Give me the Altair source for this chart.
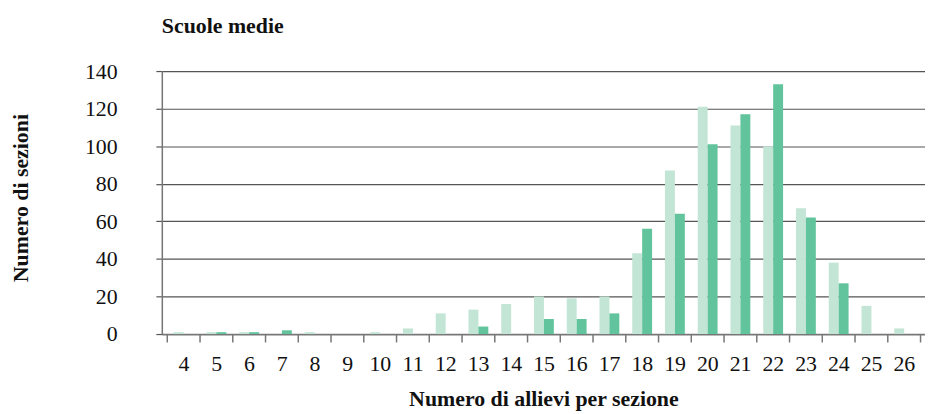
import altair as alt
import pandas as pd

categories = list(range(4, 27))
serie_chiara = [1, 1, 1, 0, 1, 0, 1, 3, 11, 13, 16, 20, 19, 20, 43, 87, 121, 111, 100, 67, 38, 15, 3]
serie_scura = [0, 1, 1, 2, 0, 0, 0, 0, 0, 4, 0, 8, 8, 11, 56, 64, 101, 117, 133, 62, 27, 0, 0]
y_ticks = [0, 20, 40, 60, 80, 100, 120, 140]
x_bounds = [c - 0.5 for c in categories] + [categories[-1] + 0.5]

df_a = pd.DataFrame({"n": categories, "v": serie_chiara})
df_b = pd.DataFrame({"n": categories, "v": serie_scura})

FONT = "Liberation Serif"
xscale = alt.Scale(domain=[3.5, 26.5], nice=False, zero=False)
yscale = alt.Scale(domain=[0, 140], nice=False)

x_axis = alt.Axis(
    values=x_bounds, grid=False, tickSize=8, tickColor="#777777", tickWidth=1.5,
    domainColor="#777777", domainWidth=1.5,
    labelExpr="datum.value > 26 ? '' : format(datum.value + 0.5, 'd')",
    labelOffset=16.7, labelFont=FONT, labelFontSize=22, labelColor="#111111",
    labelBaseline="alphabetic", labelPadding=29, labelFlush=False, labelOverlap=False,
    title="Numero di allievi per sezione", titleFont=FONT, titleFontSize=22,
    titleFontWeight="bold", titleColor="#111111", titleBaseline="alphabetic",
    titleY=72, titleX=384.5,
)
y_axis = alt.Axis(
    values=y_ticks, grid=True, gridColor="#555555", gridWidth=1.2,
    tickSize=6, tickColor="#555555", tickWidth=1.2,
    domainColor="#777777", domainWidth=1.5,
    labelFont=FONT, labelFontSize=22, labelColor="#111111", labelPadding=39,
    labelOverlap=False, labelFlush=False,
    title="Numero di sezioni", titleFont=FONT, titleFontSize=22,
    titleFontWeight="bold", titleColor="#111111", titleAngle=270,
    titleBaseline="alphabetic", titleAlign="center", titleX=-135, titleY=127.5,
)

bars_a = alt.Chart(df_a).mark_bar(size=10, xOffset=-4.5, color="#c3e5d5").encode(
    x=alt.X("n:Q", scale=xscale, axis=x_axis),
    y=alt.Y("v:Q", scale=yscale, axis=y_axis),
)
bars_b = alt.Chart(df_b).mark_bar(size=10, xOffset=5.5, color="#62c49c").encode(
    x=alt.X("n:Q", scale=xscale, axis=x_axis),
    y=alt.Y("v:Q", scale=yscale, axis=y_axis),
)

chart = alt.layer(bars_a, bars_b).properties(
    width=769, height=265,
    title=alt.TitleParams("Scuole medie", anchor="start", frame="group",
                          font=FONT, fontSize=22, fontWeight="bold",
                          color="#111111", offset=22),
    autosize=alt.AutoSizeParams(type="none"),
    padding={"left": 155, "top": 62, "right": 0, "bottom": 76},
).configure_view(stroke=None).configure(background="white").configure_axis(
    labelOverlap=False
)

chart.save("out.html", embed_options={"renderer": "svg", "actions": False})
